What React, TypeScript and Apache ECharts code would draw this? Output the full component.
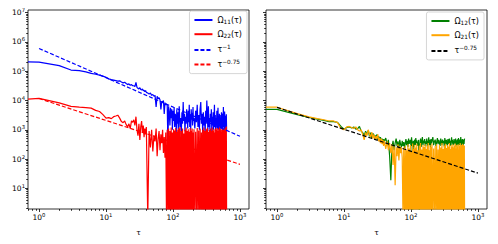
import React, { useEffect, useRef } from 'react';
import * as echarts from 'echarts';

const FONT = 'DejaVu Sans';

// lag tau (tau = 0 is drawn at the left edge, as matplotlib clips it)
const TAU = [
  0, 1, 2, 3, 4, 5, 6, 7, 8, 9, 10, 11, 12, 13, 14, 15, 16, 17, 18, 19, 20,
  21, 22, 23, 24, 25, 26, 27, 28, 29, 30, 31, 32, 33, 34, 35, 36, 37, 38, 39, 40,
  42, 44, 46, 48, 50, 52, 54, 56, 58, 60, 62, 64, 66, 68, 70, 72, 74, 76, 78, 80,
  82, 84, 86, 88, 90, 92, 94, 96, 98, 100, 102, 104, 106, 108, 110, 112, 114, 116, 118, 120, 122, 124,
  127, 130, 133, 136, 139, 142, 145, 148, 151, 154, 157, 160, 163, 166, 169, 172, 175, 178, 181, 184, 187, 190, 193, 196, 199, 202,
  206, 212, 218, 224, 230, 236, 242, 248, 254, 260, 266, 272, 278, 284, 290, 296, 302, 308, 314, 320,
  326, 332, 338, 344, 350, 356, 362, 368, 374, 380, 386, 392, 398, 404, 410, 416, 422, 428, 434, 440,
  446, 452, 458, 464, 470, 476, 482, 488, 494, 500, 506, 512, 518, 524, 530, 536, 542, 548, 554, 560,
  566, 572, 578, 584, 590, 596, 602, 608, 614, 620, 626, 632,
];

const OMEGA_11 = [
  2.1e5, 2.05e5, 1.55e5, 1.1e5, 1.05e5, 9.5e4, 8.5e4, 7.9e4, 7.4e4, 6.8e4, 6.2e4,
  5.5e4, 5.2e4, 5.0e4, 4.8e4, 4.6e4, 4.7e4, 4.3e4, 4.0e4, 4.2e4, 3.8e4,
  3.5e4, 3.7e4, 3.3e4, 3.5e4, 3.2e4, 3.2e4, 3.0e4, 4.2e4, 2.8e4, 2.6e4,
  2.5e4, 2.75e4, 2.4e4, 2.3e4, 2.5e4, 2.15e4, 2.25e4, 2.0e4, 2.2e4, 1.9e4,
  1.8e4, 1.65e4, 1.8e4, 1.5e4, 1.6e4, 1.4e4, 1.5e4, 6.0e3, 1.4e4, 1.15e4,
  1.25e4, 1.05e4, 5.0e3, 9.3e3, 8.9e3, 1.0e4, 3.5e3, 8.5e3, 7.1e3, 7.6e3,
  7.0e3, 320, 6.3e3, 4.0e3, 1.4e3, 5.6e3, 2.5e3, 5.0e3, 1.0e3, 4.5e3, 2.0e3,
  5.6e3, 1.25e3, 3.5e3, 2.8e3, 800, 5.0e3, 1.6e3, 4.0e3, 1.0e3, 3.2e3, 6.3e3,
  1.25e3, 2.5e3, 700, 4.0e3, 1.6e3, 8.9e3, 2.0e3, 3.5e3, 900, 2.8e3, 1.6e3, 5.0e3, 2.5e3,
  1.1e3, 4.5e3, 1.8e3, 7.1e3, 1.25e3, 3.2e3, 1.0e3, 5.0e3, 2.2e3, 3.8e3, 1.4e3, 6.0e3, 2.0e3,
  2.5e3, 1.1e3, 4.5e3, 1.8e3, 7.1e3, 1.25e3, 3.2e3, 1.0e3, 5.0e3, 8.9e3,
  1.6e3, 3.5e3, 800, 4.0e3, 1.4e3, 2.8e3, 700, 4.5e3, 1.6e3, 1.0e4,
  3.2e3, 900, 6.3e3, 1.25e3, 2.5e3, 1.0e3, 3.5e3, 1.8e3, 5.0e3, 800,
  2.8e3, 1.4e3, 4.0e3, 1.0e3, 2.2e3, 7.1e3, 1.25e3, 3.2e3, 900, 2.5e3,
  1.4e3, 4.5e3, 1.1e3, 2.0e3, 5.6e3, 1.0e3, 2.8e3, 1.6e3, 3.5e3, 900,
  2.2e3, 1.25e3, 3.2e3, 1.1e3, 4.0e3, 1.5e3, 2.6e3, 850, 3.6e3, 1.9e3,
  6.0e3, 1.2e3, 2.4e3, 950, 4.2e3, 1.7e3, 3.0e3, 1.0e3, 2.7e3, 1.3e3,
  3.4e3, 900,
];

const OMEGA_22 = [
  1.12e4, 1.18e4, 8.3e3, 6.3e3, 5.9e3, 5.75e3, 5.5e3, 4.6e3, 4.2e3, 3.3e3, 2.5e3,
  2.6e3, 2.4e3, 2.8e3, 2.95e3, 3.15e3, 2.5e3, 1.9e3, 1.75e3, 2.0e3, 1.5e3,
  1.25e3, 1.6e3, 1.1e3, 2.0e3, 1.8e3, 2.2e3, 1.4e3, 2.8e3, 1.0e3, 630,
  1.6e3, 450, 1.25e3, 2.0e3, 800, 1.4e3, 560, 1.1e3, 700, 1.25e3,
  0, 900, 250, 1.0e3, 180, 630, 400, 1.1e3, 125, 500,
  900, 200, 700, 350, 1.0e3, 160, 560, 110, 800, 0,
  1.0e3, 0, 1.1e3, 0, 900, 0, 1.2e3, 0, 800, 0, 1.05e3,
  0, 950, 0, 1.15e3, 0, 850, 0, 1.0e3, 0, 1.1e3, 0,
  1.25e3, 0, 900, 0, 1.1e3, 0, 750, 0, 1.0e3, 0, 1.2e3, 0, 900,
  0, 1.05e3, 0, 850, 0, 1.15e3, 0, 950, 0, 1.1e3, 0, 800, 0,
  1.05e3, 0, 850, 0, 1.15e3, 0, 950, 0, 1.1e3, 0,
  800, 0, 1.0e3, 0, 1.2e3, 0, 900, 0, 1.05e3, 0,
  1.15e3, 0, 850, 0, 1.0e3, 0, 1.1e3, 0, 900, 0,
  1.2e3, 0, 950, 0, 1.05e3, 0, 800, 0, 1.1e3, 0,
  1.0e3, 0, 1.15e3, 0, 900, 0, 1.05e3, 0, 1.2e3, 0,
  950, 0, 1.1e3, 0, 850, 0, 1.0e3, 0, 1.15e3, 0,
  900, 0, 1.1e3, 0, 1.05e3, 0, 950, 0, 1.2e3, 0,
  1.3e3, 0,
];

const OMEGA_12 = [
  5.0e3, 5.0e3, 3.3e3, 2.65e3, 2.3e3, 2.1e3, 1.9e3, 1.9e3, 1.8e3, 1.3e3, 1.05e3,
  1.2e3, 1.25e3, 1.15e3, 1.25e3, 1.05e3, 1.1e3, 1.3e3, 900, 800, 630,
  900, 700, 950, 600, 800, 520, 760, 560, 660, 500,
  700, 450, 600, 420, 560, 380, 500, 350, 480, 400,
  520, 320, 450, 125, 19, 250, 420, 200, 350, 500,
  280, 400, 220, 450, 320, 250, 420, 280, 380, 240,
  350, 480, 300, 420, 260, 500, 330, 400, 450, 280, 550,
  320, 0, 420, 260, 380, 460, 300, 520, 350, 430, 360,
  280, 450, 0, 330, 500, 260, 400, 560, 300, 430, 350, 480, 280,
  400, 330, 500, 270, 420, 360, 550, 300, 450, 380, 260, 480, 340,
  420, 560, 300, 400, 460, 280, 380, 520, 320, 450,
  360, 280, 500, 380, 300, 460, 350, 420, 270, 520,
  380, 320, 450, 350, 280, 480, 400, 330, 500, 360,
  280, 420, 380, 550, 300, 450, 350, 420, 300, 480,
  360, 420, 330, 500, 270, 440, 390, 310, 470, 350,
  290, 520, 380, 430, 300, 460, 340, 400, 560, 310,
  440, 370, 290, 480, 350, 420, 300, 460, 380, 330,
  450, 500,
];

const OMEGA_21 = [
  5.9e3, 5.9e3, 3.55e3, 2.75e3, 2.4e3, 2.2e3, 2.0e3, 2.0e3, 1.75e3, 1.1e3, 1.0e3,
  1.25e3, 1.3e3, 1.2e3, 1.1e3, 1.25e3, 1.0e3, 900, 1.0e3, 700, 450,
  800, 630, 1.0e3, 700, 560, 830, 500, 700, 450, 600,
  500, 700, 400, 520, 350, 500, 320, 450, 280, 420,
  220, 400, 200, 350, 160, 320, 63, 280, 12.6, 250,
  125, 320, 90, 280, 160, 250, 110, 0, 250, 0,
  280, 0, 200, 0, 320, 0, 230, 0, 300, 0, 180,
  0, 340, 0, 220, 0, 300, 0, 250, 0, 330, 0,
  200, 0, 290, 0, 350, 0, 210, 0, 300, 0, 260, 0, 320,
  0, 220, 0, 290, 0, 350, 0, 200, 0, 300, 0, 260, 0,
  340, 0, 230, 0, 280, 0, 320, 0, 210, 0,
  300, 0, 250, 0, 350, 0, 220, 0, 290, 0,
  330, 0, 240, 0, 300, 0, 270, 0, 350, 0,
  220, 0, 300, 0, 260, 0, 320, 0, 250, 0,
  290, 0, 340, 0, 230, 0, 300, 0, 270, 0,
  320, 0, 210, 0, 290, 0, 350, 0, 240, 0,
  300, 0, 260, 0, 330, 0, 220, 0, 300, 0,
  280, 0,
];

// reference power laws (end points on the log-log plot)
const REF_TAU = [1, 1000];
const REF_TAU_INV = [6.0e5, 600];
const REF_TAU_075_RED = [1.17e4, 66];
const REF_TAU_075_BLACK = [5.8e3, 33];

// axes
const X_MIN = 0.684;
const X_MAX = 1365;
const Y_MIN = 1.96;
const Y_MAX = 1.24e7;
const Y_FLOOR = 1; // non-positive values are clipped just below the axis
const X_MAJOR = [1, 10, 100, 1000];
const Y_MAJOR = [10, 100, 1e3, 1e4, 1e5, 1e6, 1e7];
const X_DECADES = [0.1, 1, 10, 100, 1000];
const Y_DECADES = [1, 10, 100, 1e3, 1e4, 1e5, 1e6, 1e7];
const MINOR_STEPS = [2, 3, 4, 5, 6, 7, 8, 9];

const LEGEND_LABEL: Record<string, string> = {
  'Ω11(τ)': '{n|Ω}{sub|11}{n|(τ)}',
  'Ω22(τ)': '{n|Ω}{sub|22}{n|(τ)}',
  'τ^-1': '{n|τ}{sup|−1}',
  'τ^-0.75': '{n|τ}{sup|−0.75}',
  'Ω12(τ)': '{n|Ω}{sub|12}{n|(τ)}',
  'Ω21(τ)': '{n|Ω}{sub|21}{n|(τ)}',
  'τ^-0.75 fit': '{n|τ}{sup|−0.75}',
};

function minorTicks(decades: number[], lo: number, hi: number) {
  const out: number[] = [];
  decades.forEach((d) => MINOR_STEPS.forEach((m) => {
    const v = +(d * m).toPrecision(6);
    if (v >= lo && v <= hi) out.push(v);
  }));
  return out;
}

const powLabel = (v: number) => `{b|10}{s|${Math.round(Math.log10(v))}}`;
const labelRich = {
  b: { fontFamily: FONT, fontSize: 7.5, color: '#000' },
  s: { fontFamily: FONT, fontSize: 5.3, color: '#000', padding: [0, 0, 5, 0] },
};
const tickLine = { color: '#000', width: 0.8 };

function xAxes(gridIndex: number) {
  return [
    {
      type: 'log', logBase: 10, gridIndex, min: X_MIN, max: X_MAX, position: 'bottom',
      name: 'τ', nameLocation: 'middle', nameGap: 19,
      nameTextStyle: { fontFamily: FONT, fontSize: 7.5, color: '#000' },
      axisLine: { show: false }, splitLine: { show: false },
      axisTick: { show: true, customValues: X_MAJOR, length: 3, lineStyle: tickLine },
      axisLabel: { customValues: X_MAJOR, formatter: powLabel, margin: 3, rich: labelRich },
    },
    {
      type: 'log', logBase: 10, gridIndex, min: X_MIN, max: X_MAX, position: 'bottom',
      axisLine: { show: false }, splitLine: { show: false }, axisLabel: { show: false },
      axisTick: { show: true, customValues: minorTicks(X_DECADES, X_MIN, X_MAX), length: 1.8, lineStyle: tickLine },
    },
  ];
}

function yAxes(gridIndex: number, labels: boolean) {
  return [
    {
      type: 'log', logBase: 10, gridIndex, min: Y_MIN, max: Y_MAX, position: 'left',
      axisLine: { show: false }, splitLine: { show: false },
      axisTick: { show: true, customValues: Y_MAJOR, length: 3, lineStyle: tickLine },
      axisLabel: { show: labels, customValues: Y_MAJOR, formatter: powLabel, margin: 3, rich: labelRich },
    },
    {
      type: 'log', logBase: 10, gridIndex, min: Y_MIN, max: Y_MAX, position: 'left',
      axisLine: { show: false }, splitLine: { show: false }, axisLabel: { show: false },
      axisTick: { show: true, customValues: minorTicks(Y_DECADES, Y_MIN, Y_MAX), length: 1.8, lineStyle: tickLine },
    },
  ];
}

const toPoints = (tau: number[], vals: number[]) =>
  tau.map((t, i) => [t <= 0 ? X_MIN : t, vals[i] <= 0 ? Y_FLOOR : vals[i]]);

function lineSeries(name: string, axis: number, tau: number[], vals: number[], color: string, dashed = false) {
  return {
    type: 'line', name, xAxisIndex: axis, yAxisIndex: axis,
    data: toPoints(tau, vals), symbol: 'none', showSymbol: false, color,
    lineStyle: { color, width: 1.2, type: dashed ? [4, 2] : 'solid' },
    clip: true, silent: true,
  };
}

function legend(data: string[], right: number, top: number) {
  return {
    data, right, top, orient: 'vertical', selectedMode: false,
    itemWidth: 18, itemHeight: 8, itemGap: 5.2, padding: [5, 5, 5, 4],
    borderColor: '#cccccc', borderWidth: 0.8, borderRadius: 2,
    backgroundColor: 'rgba(255,255,255,0.8)',
    itemStyle: { opacity: 0 },
    formatter: (n: string) => LEGEND_LABEL[n] ?? n,
    textStyle: {
      fontFamily: FONT, fontSize: 8, color: '#000',
      rich: {
        n: { fontFamily: FONT, fontSize: 8, color: '#000' },
        sub: { fontFamily: FONT, fontSize: 5.8, color: '#000', padding: [4, 0, 0, 0] },
        sup: { fontFamily: FONT, fontSize: 5.8, color: '#000', padding: [0, 0, 5, 0] },
      },
    },
  };
}

export default function App() {
  const ref = useRef<HTMLDivElement>(null);
  useEffect(() => {
    if (!ref.current) return;
    const chart = echarts.init(ref.current, undefined, { renderer: 'svg' });
    const grid = { show: true, borderColor: '#000', borderWidth: 0.8, backgroundColor: 'transparent', containLabel: false };
    chart.setOption({
      animation: false,
      grid: [
        { ...grid, left: 28, top: 10, width: 221, height: 199 },
        { ...grid, left: 266, top: 10, width: 221, height: 199 },
      ],
      xAxis: [...xAxes(0), ...xAxes(1)],
      yAxis: [...yAxes(0, true), ...yAxes(1, false)],
      legend: [
        legend(['Ω11(τ)', 'Ω22(τ)', 'τ^-1', 'τ^-0.75'], 251, 11),
        legend(['Ω12(τ)', 'Ω21(τ)', 'τ^-0.75 fit'], 14, 12),
      ],
      series: [
        lineSeries('Ω11(τ)', 0, TAU, OMEGA_11, '#0000ff'),
        lineSeries('Ω22(τ)', 0, TAU, OMEGA_22, '#ff0000'),
        lineSeries('τ^-1', 0, REF_TAU, REF_TAU_INV, '#0000ff', true),
        lineSeries('τ^-0.75', 0, REF_TAU, REF_TAU_075_RED, '#ff0000', true),
        lineSeries('Ω12(τ)', 2, TAU, OMEGA_12, '#008000'),
        lineSeries('Ω21(τ)', 2, TAU, OMEGA_21, '#ffa500'),
        lineSeries('τ^-0.75 fit', 2, REF_TAU, REF_TAU_075_BLACK, '#000000', true),
      ],
    });
    return () => chart.dispose();
  }, []);
  return <div ref={ref} style={{ position: 'absolute', left: 0, top: 0, width: 498, height: 244 }} />;
}
